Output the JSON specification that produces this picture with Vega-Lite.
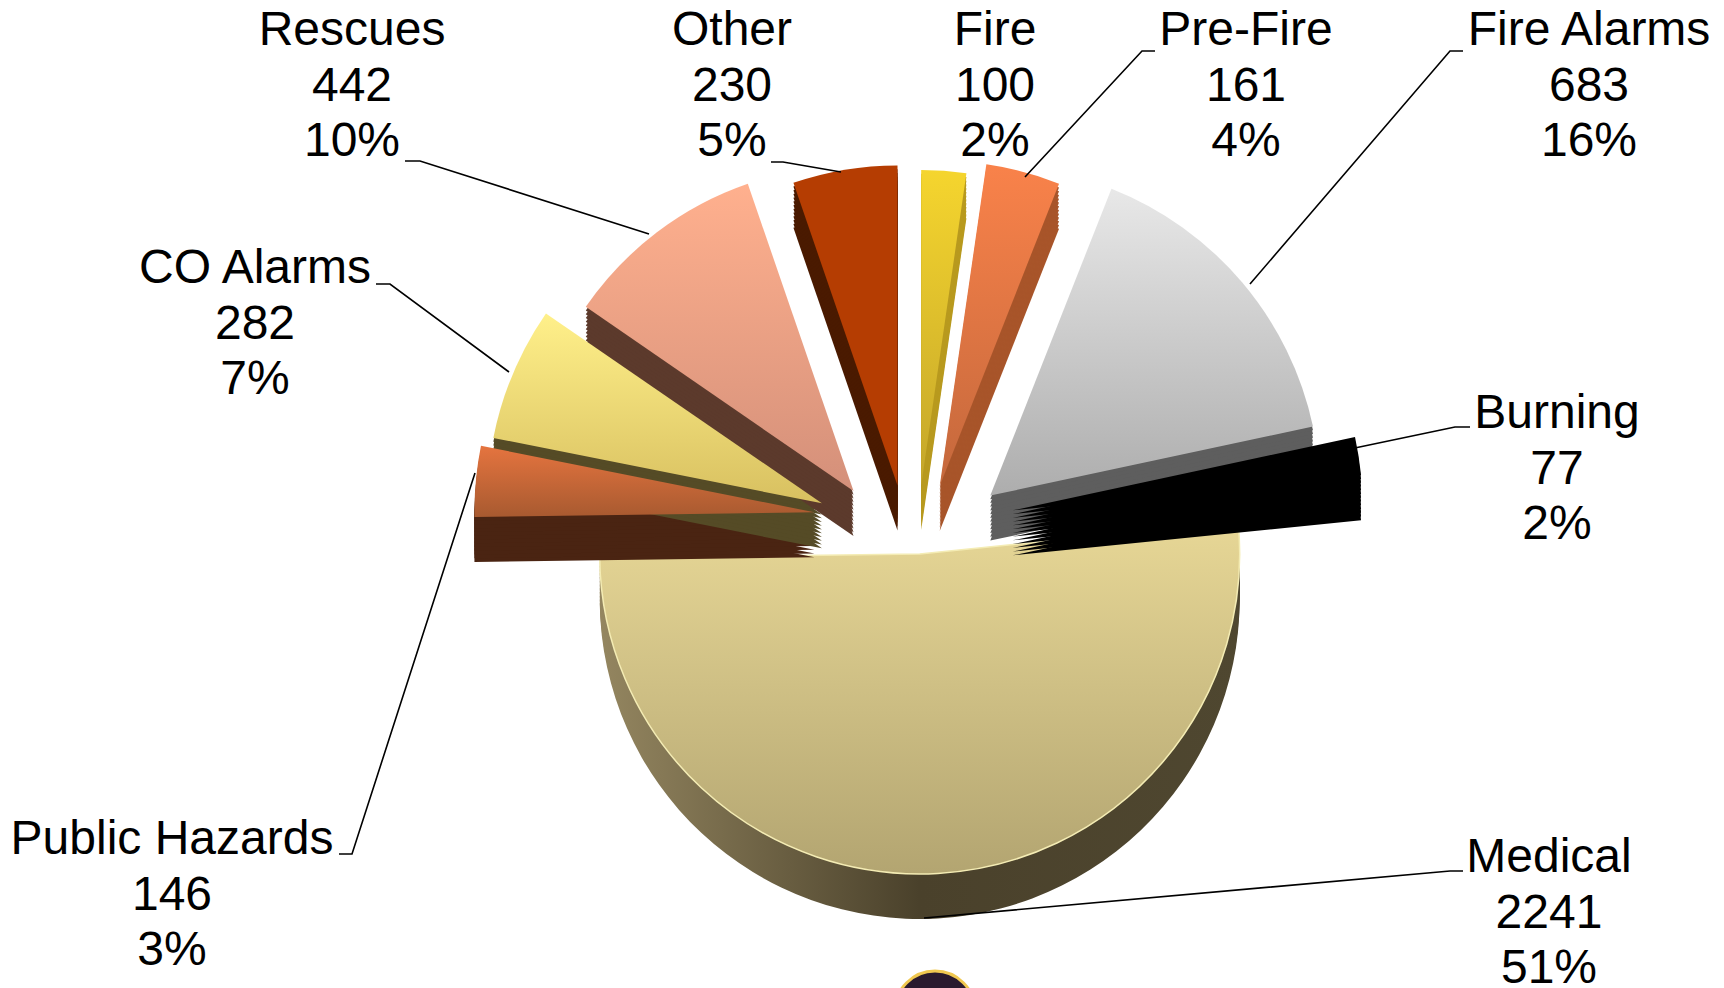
{"$schema":"https://vega.github.io/schema/vega-lite/v6.json","width":1724,"height":988,"padding":0,"autosize":{"type":"none"},"background":"white","config":{"view":{"stroke":null}},
"data":{"values":[
{"name":"Fire","value":100,"pct":2},
{"name":"Pre-Fire","value":161,"pct":4},
{"name":"Fire Alarms","value":683,"pct":16},
{"name":"Burning","value":77,"pct":2},
{"name":"Medical","value":2241,"pct":51},
{"name":"Public Hazards","value":146,"pct":3},
{"name":"CO Alarms","value":282,"pct":7},
{"name":"Rescues","value":442,"pct":10},
{"name":"Other","value":230,"pct":5}]},
"transform":[
{"stack":"value","groupby":[],"as":["a","b"]},
{"calculate":"(datum.a+datum.b)/2/4362*2*PI","as":"mid"},
{"calculate":"sin(datum.mid)","as":"ex"},
{"calculate":"cos(datum.mid)*(datum.name==='Medical'?1.3:1)","as":"ey"},
{"calculate":"{'Fire':315,'Pre-Fire':325,'Fire Alarms':330,'Burning':350,'Medical':320,'Public Hazards':340,'CO Alarms':335,'Rescues':325,'Other':320}[datum.name]","as":"r"},
{"calculate":"[datum.name,''+datum.value,datum.pct+'%']","as":"label"},
{"calculate":"{'Fire':995,'Pre-Fire':1246,'Fire Alarms':1589,'Burning':1557,'Medical':1549,'Public Hazards':172,'CO Alarms':255,'Rescues':352,'Other':732}[datum.name]","as":"lx"},
{"calculate":"{'Fire':7,'Pre-Fire':7,'Fire Alarms':7,'Burning':390,'Medical':834,'Public Hazards':816,'CO Alarms':245,'Rescues':7,'Other':7}[datum.name]","as":"ly"},
{"calculate":"[1.5,1.375,1.25,1.125,1,0.875,0.75,0.625,0.5,0.375,0.25,0.125]","as":"depths"}
],
"encoding":{
"theta":{"field":"a","type":"quantitative","scale":{"domain":[0,4362]}},
"theta2":{"field":"b"},
"radius":{"field":"r","type":"quantitative","scale":null}
},
"resolve":{"scale":{"x":"independent","y":"independent","color":"independent"}},
"layer":[
{"transform":[{"filter":"datum.name==='Medical'"},{"flatten":["depths"]},{"calculate":"datum.ey-datum.depths","as":"dy"}],
"mark":{"type":"arc","fill":{"gradient":"linear","x1":0,"y1":0,"x2":1,"y2":0,"stops":[{"offset":0,"color":"#948660"},{"offset":0.5,"color":"#4a412b"},{"offset":1,"color":"#4f4730"}]}},
"encoding":{
"x":{"field":"ex","type":"quantitative","axis":null,"scale":{"domain":[-9.14,8.1],"nice":false,"zero":false}},
"y":{"field":"dy","type":"quantitative","axis":null,"scale":{"domain":[-15.7667,17.1667],"nice":false,"zero":false}}
}},
{"transform":[{"filter":"datum.name==='Medical'"}],"mark":{"type":"arc","stroke":"#f4ecb4","strokeWidth":1.5,"fill":{"gradient":"linear","x1":0,"y1":0,"x2":0,"y2":1,"stops":[{"offset":0,"color":"#e7d796"},{"offset":1,"color":"#b3a571"}]}},
"encoding":{"x":{"field":"ex","type":"quantitative","axis":null,"scale":{"domain":[-9.14,8.1],"nice":false,"zero":false}},"y":{"field":"ey","type":"quantitative","axis":null,"scale":{"domain":[-15.7667,17.1667],"nice":false,"zero":false}}}},
{"transform":[{"filter":"datum.name!=='Medical'"},{"flatten":["depths"]},{"calculate":"datum.ey-datum.depths","as":"dy"}],
"mark":{"type":"arc"},
"encoding":{
"x":{"field":"ex","type":"quantitative","axis":null,"scale":{"domain":[-9.14,8.1],"nice":false,"zero":false}},
"y":{"field":"dy","type":"quantitative","axis":null,"scale":{"domain":[-15.7667,17.1667],"nice":false,"zero":false}},
"color":{"field":"name","type":"nominal","legend":null,"scale":{"domain":["Fire","Pre-Fire","Fire Alarms","Burning","Public Hazards","CO Alarms","Rescues","Other"],"range":["#b89a1f","#a8552a","#5e5e5e","#000000","#4a2412","#554b26","#5c3a2c","#4a1a00"]}}
}},
{"transform":[{"filter":"datum.name==='Fire'"}],"mark":{"type":"arc","fill":{"gradient":"linear","x1":0,"y1":0,"x2":0,"y2":1,"stops":[{"offset":0,"color":"#f5d52e"},{"offset":1,"color":"#c4a62a"}]}},
"encoding":{"x":{"field":"ex","type":"quantitative","axis":null,"scale":{"domain":[-9.14,8.1],"nice":false,"zero":false}},"y":{"field":"ey","type":"quantitative","axis":null,"scale":{"domain":[-15.7667,17.1667],"nice":false,"zero":false}}}},
{"transform":[{"filter":"datum.name==='Pre-Fire'"}],"mark":{"type":"arc","fill":{"gradient":"linear","x1":0,"y1":0,"x2":0,"y2":1,"stops":[{"offset":0,"color":"#f9824a"},{"offset":1,"color":"#c4683c"}]}},
"encoding":{"x":{"field":"ex","type":"quantitative","axis":null,"scale":{"domain":[-9.14,8.1],"nice":false,"zero":false}},"y":{"field":"ey","type":"quantitative","axis":null,"scale":{"domain":[-15.7667,17.1667],"nice":false,"zero":false}}}},
{"transform":[{"filter":"datum.name==='Fire Alarms'"}],"mark":{"type":"arc","fill":{"gradient":"linear","x1":0,"y1":0,"x2":0,"y2":1,"stops":[{"offset":0,"color":"#e8e8e8"},{"offset":1,"color":"#adadad"}]}},
"encoding":{"x":{"field":"ex","type":"quantitative","axis":null,"scale":{"domain":[-9.14,8.1],"nice":false,"zero":false}},"y":{"field":"ey","type":"quantitative","axis":null,"scale":{"domain":[-15.7667,17.1667],"nice":false,"zero":false}}}},
{"transform":[{"filter":"datum.name==='Burning'"}],"mark":{"type":"arc","fill":"#000000"},
"encoding":{"x":{"field":"ex","type":"quantitative","axis":null,"scale":{"domain":[-9.14,8.1],"nice":false,"zero":false}},"y":{"field":"ey","type":"quantitative","axis":null,"scale":{"domain":[-15.7667,17.1667],"nice":false,"zero":false}}}},
{"transform":[{"filter":"datum.name==='Public Hazards'"}],"mark":{"type":"arc","fill":{"gradient":"linear","x1":0,"y1":0,"x2":0,"y2":1,"stops":[{"offset":0,"color":"#e5743f"},{"offset":1,"color":"#a85a30"}]}},
"encoding":{"x":{"field":"ex","type":"quantitative","axis":null,"scale":{"domain":[-9.14,8.1],"nice":false,"zero":false}},"y":{"field":"ey","type":"quantitative","axis":null,"scale":{"domain":[-15.7667,17.1667],"nice":false,"zero":false}}}},
{"transform":[{"filter":"datum.name==='CO Alarms'"}],"mark":{"type":"arc","fill":{"gradient":"linear","x1":0,"y1":0,"x2":0,"y2":1,"stops":[{"offset":0,"color":"#fff08a"},{"offset":1,"color":"#d8c060"}]}},
"encoding":{"x":{"field":"ex","type":"quantitative","axis":null,"scale":{"domain":[-9.14,8.1],"nice":false,"zero":false}},"y":{"field":"ey","type":"quantitative","axis":null,"scale":{"domain":[-15.7667,17.1667],"nice":false,"zero":false}}}},
{"transform":[{"filter":"datum.name==='Rescues'"}],"mark":{"type":"arc","fill":{"gradient":"linear","x1":0,"y1":0,"x2":0,"y2":1,"stops":[{"offset":0,"color":"#ffb08e"},{"offset":1,"color":"#d4907a"}]}},
"encoding":{"x":{"field":"ex","type":"quantitative","axis":null,"scale":{"domain":[-9.14,8.1],"nice":false,"zero":false}},"y":{"field":"ey","type":"quantitative","axis":null,"scale":{"domain":[-15.7667,17.1667],"nice":false,"zero":false}}}},
{"transform":[{"filter":"datum.name==='Other'"}],"mark":{"type":"arc","fill":"#b53d02"},
"encoding":{"x":{"field":"ex","type":"quantitative","axis":null,"scale":{"domain":[-9.14,8.1],"nice":false,"zero":false}},"y":{"field":"ey","type":"quantitative","axis":null,"scale":{"domain":[-15.7667,17.1667],"nice":false,"zero":false}}}},
{"transform":[
{"filter":"datum.name!=='Fire'"},
{"calculate":"{'Other':[[771,162],[783,162],[841,172]],'Rescues':[[405,161],[420,161],[649,234]],'CO Alarms':[[376,284],[390,284],[509,372]],'Pre-Fire':[[1155,51],[1142,51],[1025,177]],'Fire Alarms':[[1463,51],[1450,51],[1250,284]],'Burning':[[1470,427],[1455,427],[1350,449]],'Medical':[[1463,871],[1450,871],[924,918]],'Public Hazards':[[339,854],[352,854],[475,473]]}[datum.name]","as":"pts"},
{"flatten":["pts"]},
{"calculate":"datum.pts[0]","as":"px"},
{"calculate":"datum.pts[1]","as":"py"}],
"mark":{"type":"line","color":"#000000","strokeWidth":1.6},
"encoding":{
"theta":null,"theta2":null,"radius":null,
"x":{"field":"px","type":"quantitative","axis":null,"scale":{"domain":[0,1724],"nice":false,"zero":false}},
"y":{"field":"py","type":"quantitative","axis":null,"scale":{"domain":[988,0],"nice":false,"zero":false}},
"detail":{"field":"name"},
"order":null
}},
{"mark":{"type":"text","font":"Liberation Sans","fontSize":48,"lineHeight":55.5,"align":"center","baseline":"top","color":"#000000"},
"encoding":{
"theta":null,"theta2":null,"radius":null,
"x":{"field":"lx","type":"quantitative","axis":null,"scale":{"domain":[0,1724],"nice":false,"zero":false}},
"y":{"field":"ly","type":"quantitative","axis":null,"scale":{"domain":[988,0],"nice":false,"zero":false}},
"text":{"field":"label"}
}},
{"data":{"values":[{"emblem":"badge"}]},
"mark":{"type":"point","shape":"circle","filled":true,"fill":"#2a1a2e","stroke":"#f0c850","strokeWidth":3,"opacity":1,"size":6400},
"encoding":{
"theta":null,"theta2":null,"radius":null,
"x":{"datum":935,"type":"quantitative","axis":null,"scale":{"domain":[0,1724],"nice":false,"zero":false}},
"y":{"datum":1011,"type":"quantitative","axis":null,"scale":{"domain":[988,0],"nice":false,"zero":false}}
}}
]}
